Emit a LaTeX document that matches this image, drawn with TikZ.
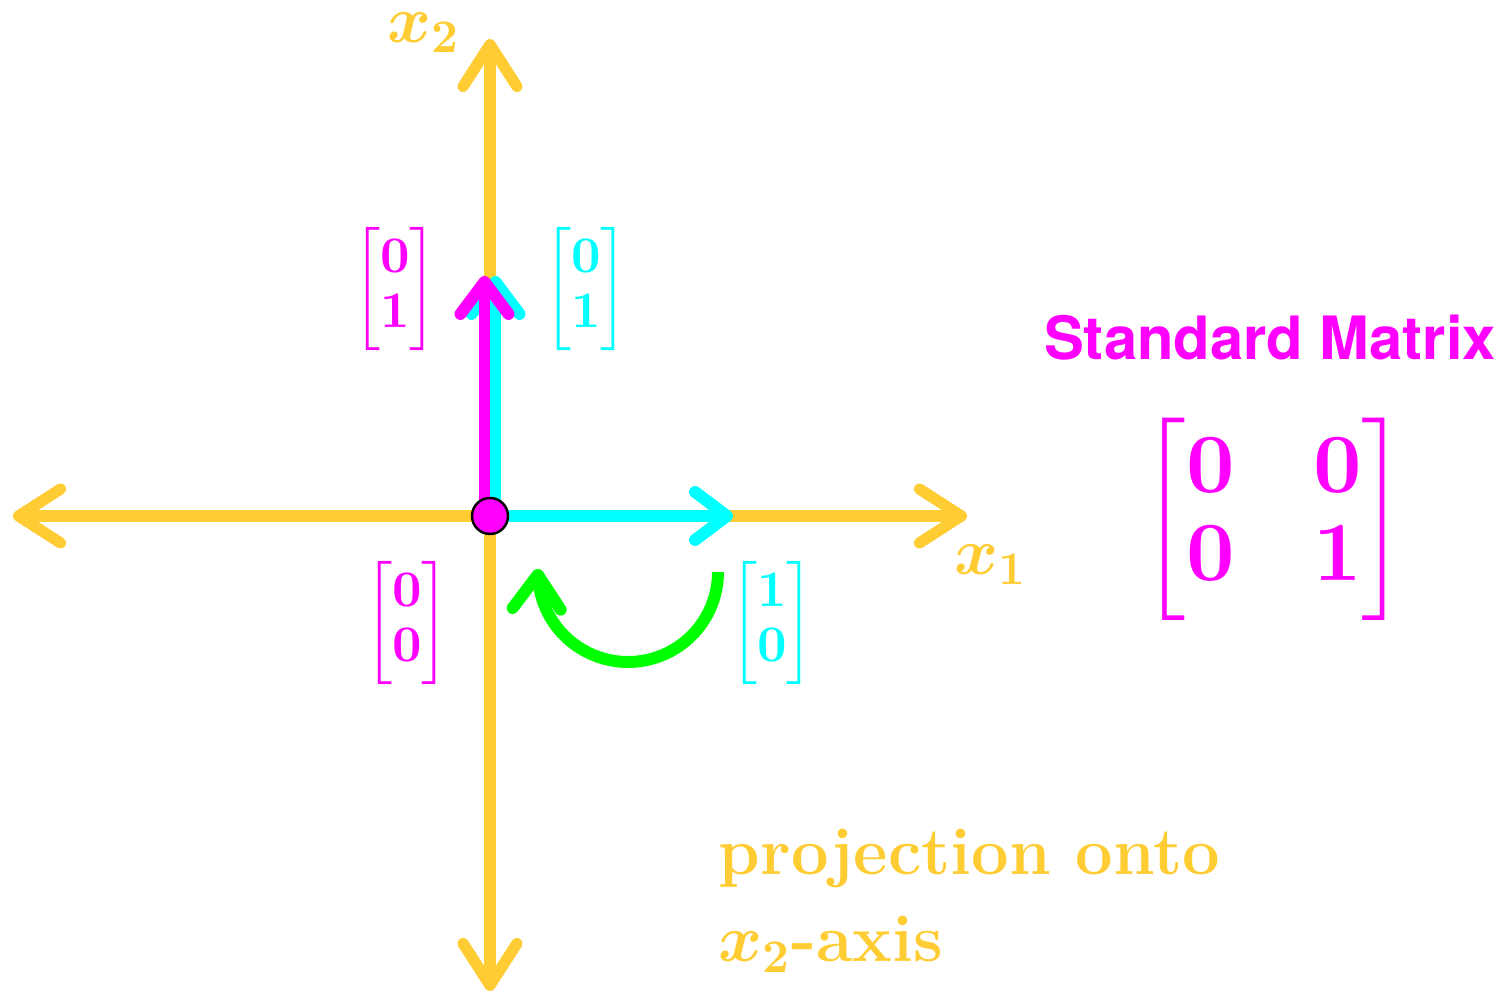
\RequirePackage{fix-cm}
\documentclass[tikz,border=0pt]{standalone}
\usepackage{amsmath, amsfonts}
\usepackage{fontspec}
\newfontfamily\headfont{TeX Gyre Heros}
\newfontfamily\digitfont{lmroman10-bold.otf}
\newcommand\bd[1]{\text{\digitfont #1}}
\usepackage{tikz}
\usepackage{xcolor}
\definecolor{axisyellow}{RGB}{255,204,51}
\definecolor{vecmagenta}{RGB}{255,0,255}
\definecolor{veccyan}{RGB}{0,255,255}
\definecolor{turngreen}{RGB}{0,255,0}
\usetikzlibrary{arrows.meta,bending}
\tikzset{>={Straight Barb[round]}}
\tikzset{
  axis/.style={axisyellow, line width=3.2pt,
    {Straight Barb[round,length=4.2mm,width=5.4mm]}-{Straight Barb[round,length=4.2mm,width=5.4mm]}},
  vec/.style={line width=3.4pt, -{Straight Barb[round,length=3.2mm,width=4.8mm]}},
  axlbl/.style={axisyellow, font=\fontsize{19}{25}\selectfont, inner sep=0pt},
  veclbl/.style={font=\fontsize{14.6}{15.5}\selectfont, inner sep=0pt},
}

\begin{document}
\begin{tikzpicture}[scale=1]
    \useasboundingbox (-4.90, -4.87) rectangle (10.09, 5.16);
    % axes
    \coordinate (O) at (0, 0);
    \coordinate (xl) at (-4.77, 0);
    \coordinate (xr) at (4.77, 0);
    \coordinate (yb) at (0, -4.75);
    \coordinate (yt) at (0, 4.77);
    \draw[axis] (xl) -- (xr);
    \draw[axis] (yb) -- (yt);
    \node[axlbl] (x1lbl) at (5.01, -0.49) {$\boldsymbol{x}_{\bd{1}}$};
    \node[axlbl] (x2lbl) at (-0.66, 4.83) {$\boldsymbol{x}_{\bd{2}}$};
    % basis vectors
    \coordinate (Oc) at (0.055, 0);
    \coordinate (Om) at (-0.055, 0);
    \coordinate (e1) at (2.43, 0);
    \coordinate (e2c) at (0.055, 2.40);
    \coordinate (e2m) at (-0.055, 2.40);
    \draw[vec, veccyan] (O) -- (e1);
    \draw[vec, veccyan] (Oc) -- (e2c);
    \draw[vec, vecmagenta] (Om) -- (e2m);
    \node[circle, fill=vecmagenta, draw=black, line width=0.7pt,
      minimum size=0.36cm, inner sep=0pt] (dot) at (O) {};
    % turn
    \coordinate (ts) at (2.28, -0.56);
    \draw[turngreen, line width=3.4pt, -{Straight Barb[round,length=3.4mm,width=4.8mm]}]
      (ts) arc[start angle=0, end angle=-182, radius=0.9];
    % vector labels
    \node[veclbl, vecmagenta] (m01) at (-0.95, 2.27)
      {$\begin{bmatrix}\bd{0}\\ \bd{1}\end{bmatrix}$};
    \node[veclbl, veccyan] (c01) at (0.96, 2.27)
      {$\begin{bmatrix}\bd{0}\\ \bd{1}\end{bmatrix}$};
    \node[veclbl, vecmagenta] (m00) at (-0.83, -1.07)
      {$\begin{bmatrix}\bd{0}\\ \bd{0}\end{bmatrix}$};
    \node[veclbl, veccyan] (c10) at (2.82, -1.07)
      {$\begin{bmatrix}\bd{1}\\ \bd{0}\end{bmatrix}$};
    % standard matrix
    \node[vecmagenta, font=\headfont\bfseries\fontsize{17}{20}\selectfont, inner sep=0pt]
      (title) at (7.80, 1.78) {Standard Matrix};
    \node[vecmagenta, font=\fontsize{24}{25}\selectfont, inner sep=0pt] (std) at (7.84, -0.03)
      {$\setlength\arraycolsep{11.2pt}\begin{bmatrix}\bd{0} & \bd{0}\\ \bd{0} & \bd{1}\end{bmatrix}$};
    \node[axlbl, anchor=base west, align=left] (proj) at (2.28, -4.46)
      {\textbf{projection onto}\\ $\boldsymbol{x}_{\bd{2}}$\textbf{-axis}};
\end{tikzpicture}
\end{document}
